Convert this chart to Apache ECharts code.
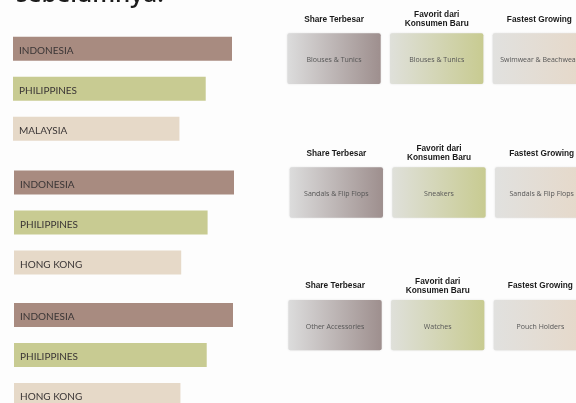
<!DOCTYPE html>
<html>
<head>
<meta charset="utf-8">
<script src="https://cdn.jsdelivr.net/npm/echarts@6/dist/echarts.min.js"></script>
<style>
  html, body { margin: 0; padding: 0; background: #fdfdfd; }
  #chart { width: 576px; height: 403px; }
</style>
</head>
<body>
<div id="chart"></div>
<script>
// left: country share bars, one block per category group
const countries1 = ['INDONESIA', 'PHILIPPINES', 'MALAYSIA']
const countries2 = ['INDONESIA', 'PHILIPPINES', 'HONG KONG']
const countries3 = ['INDONESIA', 'PHILIPPINES', 'HONG KONG']
const shares1 = [100, 88, 76]
const shares2 = [100, 88, 76]
const shares3 = [100, 88, 76]

// right: highlight cards
const headers = ['Share Terbesar', 'Favorit dari\nKonsumen Baru', 'Fastest Growing']
const picks1 = ['Blouses & Tunics', 'Blouses & Tunics', 'Swimwear & Beachwear']
const picks2 = ['Sandals & Flip Flops', 'Sneakers', 'Sandals & Flip Flops']
const picks3 = ['Other Accessories', 'Watches', 'Pouch Holders']
const cardValue = [1, 1, 1]

const barColors = ['#a88b80', '#c8cb92', '#e6d9c8']
const cardGrad = [
  ['#dcdcdc', '#9e8f8e'],
  ['#dfe0da', '#c8cb91'],
  ['#e1e1df', '#e6d8c8'],
]

const chart = echarts.init(document.getElementById('chart'))

const leftGrids = [
  { left: 13, top: 28.8, width: 219, height: 120 },
  { left: 14, top: 162.6, width: 220, height: 120 },
  { left: 14, top: 295, width: 219, height: 120 },
]
const rightGrids = [
  { left: 282.7, top: 33.3, width: 308, height: 50.7 },
  { left: 285, top: 167.3, width: 308, height: 50.4 },
  { left: 283.7, top: 300, width: 308, height: 50.3 },
]
const countryLists = [countries1, countries2, countries3]
const shareLists = [shares1, shares2, shares3]
const pickLists = [picks1, picks2, picks3]

const grid = [...leftGrids, ...rightGrids].map((g) => ({ ...g, outerBoundsMode: 'none' }))
const xAxis = []
const yAxis = []
const series = []

leftGrids.forEach((g, i) => {
  xAxis.push({ gridIndex: i, type: 'value', min: 0, max: 100, show: false })
  yAxis.push({ gridIndex: i, type: 'category', inverse: true, data: countryLists[i], show: false })
  series.push({
    type: 'bar',
    xAxisIndex: i,
    yAxisIndex: i,
    barWidth: 24,
    silent: true,
    data: shareLists[i].map((v, k) => ({ value: v, itemStyle: { color: barColors[k] } })),
    label: {
      show: true,
      position: 'insideLeft',
      distance: 6,
      offset: [0, 2],
      formatter: (p) => countryLists[i][p.dataIndex],
      fontFamily: 'Lato',
      fontSize: 10,
      color: '#3a3535',
    },
  })
})

rightGrids.forEach((g, j) => {
  const i = j + 3
  xAxis.push({
    gridIndex: i,
    type: 'category',
    position: 'top',
    data: headers,
    axisLine: { show: false },
    axisTick: { show: false },
    axisLabel: {
      interval: 0,
      margin: 14,
      verticalAlign: 'middle',
      fontFamily: 'Liberation Sans',
      fontWeight: 'bold',
      fontSize: 8.3,
      lineHeight: 9.5,
      color: '#1a1a1a',
    },
  })
  yAxis.push({ gridIndex: i, type: 'value', min: 0, max: 1, show: false })
  series.push({
    type: 'bar',
    xAxisIndex: i,
    yAxisIndex: i,
    barWidth: 93.3,
    silent: true,
    data: cardValue.map((v, k) => ({
      value: v,
      itemStyle: {
        color: new echarts.graphic.LinearGradient(0, 0, 1, 0, [
          { offset: 0, color: cardGrad[k][0] },
          { offset: 1, color: cardGrad[k][1] },
        ]),
      },
    })),
    itemStyle: {
      borderRadius: 2,
      shadowBlur: 2,
      shadowColor: 'rgba(0,0,0,0.12)',
    },
    label: {
      show: true,
      position: 'inside',
      offset: [0, 1.5],
      formatter: (p) => pickLists[j][p.dataIndex],
      fontFamily: 'Open Sans',
      fontSize: 7,
      color: '#555',
    },
  })
})

chart.setOption({
  backgroundColor: '#fdfdfd',
  animation: false,
  title: {
    text: 'sebelumnya.',
    left: 11,
    top: -22,
    textStyle: { fontFamily: 'Open Sans', fontWeight: 600, fontSize: 24, color: '#1c1c1c' },
  },
  grid,
  xAxis,
  yAxis,
  series,
})
window.addEventListener('resize', () => chart.resize())
</script>
</body>
</html>
